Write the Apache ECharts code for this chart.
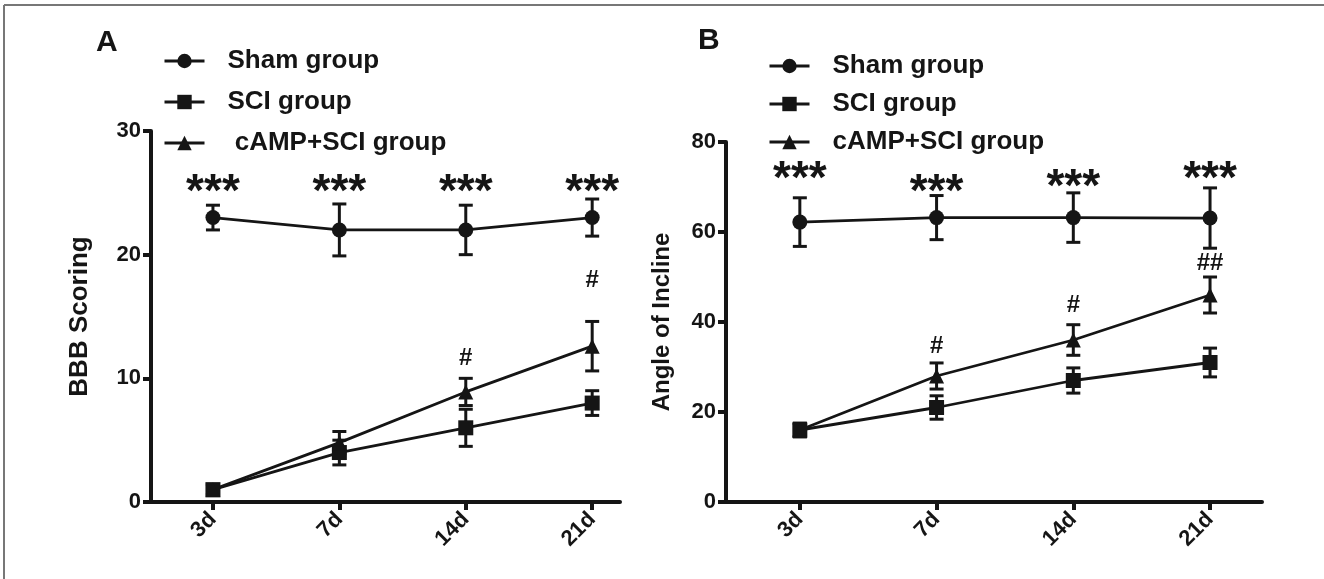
<!DOCTYPE html>
<html>
<head>
<meta charset="utf-8">
<script src="https://cdn.jsdelivr.net/npm/echarts@6/dist/echarts.min.js"></script>
<style>
  html, body { margin: 0; padding: 0; background: #fff; }
  #main { width: 1324px; height: 579px; }
</style>
</head>
<body>
<div id="main"></div>
<script>
// time points
var days = ['3d', '7d', '14d', '21d'];
var groups = ['Sham group', 'SCI group', 'cAMP+SCI group'];

// panel A - BBB scoring (mean, sem)
var bbbSham = [23, 22, 22, 23];
var bbbShamErr = [1, 2.1, 2, 1.5];
var bbbSci = [1, 4, 6, 8];
var bbbSciErr = [0.4, 1, 1.5, 1];
var bbbCamp = [1, 4.8, 8.9, 12.6];
var bbbCampErr = [0.4, 0.9, 1.1, 2];

// panel B - angle of incline
var angSham = [62.2, 63.2, 63.2, 63.1];
var angShamErr = [5.4, 4.9, 5.5, 6.7];
var angSci = [16, 21, 27, 31];
var angSciErr = [1.5, 2.6, 2.8, 3.2];
var angCamp = [16, 28, 36, 46];
var angCampErr = [1.5, 2.9, 3.4, 4];

// significance marks: [dayIndex, y, text]
var starsA = [[0, 25.0, '***'], [1, 25.0, '***'], [2, 25.0, '***'], [3, 25.0, '***']];
var hashA = [[2, 11.6, '#'], [3, 17.9, '#']];
var starsB = [[0, 71.5, '***'], [1, 68.6, '***'], [2, 69.7, '***'], [3, 71.5, '***']];
var hashB = [[1, 34.5, '#'], [2, 43.8, '#'], [3, 53, '##']];

var ink = '#151515';
var font = 'Liberation Sans';

var myChart = echarts.init(document.getElementById('main'));

function pts(arr) {
    return arr.map(function (v, i) { return [i, v]; });
}
function errPts(mean, err) {
    return mean.map(function (v, i) { return [i, v, err[i]]; });
}

function errorBars(idx, mean, err) {
    return {
        type: 'custom',
        xAxisIndex: idx, yAxisIndex: idx,
        silent: true,
        z: 3,
        data: errPts(mean, err),
        renderItem: function (params, api) {
            var x = api.value(0), y = api.value(1), e = api.value(2);
            var top = api.coord([x, y + e]);
            var bot = api.coord([x, y - e]);
            var w = 7;
            var st = {stroke: ink, lineWidth: 3};
            return {
                type: 'group',
                children: [
                    {type: 'line', shape: {x1: top[0], y1: top[1], x2: bot[0], y2: bot[1]}, style: st},
                    {type: 'line', shape: {x1: top[0] - w, y1: top[1], x2: top[0] + w, y2: top[1]}, style: st},
                    {type: 'line', shape: {x1: bot[0] - w, y1: bot[1], x2: bot[0] + w, y2: bot[1]}, style: st}
                ]
            };
        }
    };
}

function marks(idx, list, size) {
    return {
        type: 'custom',
        xAxisIndex: idx, yAxisIndex: idx,
        silent: true,
        z: 4,
        data: list.map(function (d) { return [d[0], d[1]]; }),
        renderItem: function (params, api) {
            var p = api.coord([api.value(0), api.value(1)]);
            return {
                type: 'text',
                x: p[0], y: p[1],
                style: {
                    text: list[params.dataIndex][2],
                    fontSize: size, fontWeight: 'bold', fontFamily: font,
                    align: 'center', verticalAlign: 'middle', fill: ink
                }
            };
        }
    };
}

function lineSeries(idx, name, data, symbol) {
    return {
        name: name,
        type: 'line',
        xAxisIndex: idx, yAxisIndex: idx,
        data: pts(data),
        symbol: symbol,
        symbolSize: 15,
        lineStyle: {color: ink, width: 2.8},
        itemStyle: {color: ink},
        z: 5
    };
}

function xAxisCfg(idx, min, max) {
    return {
        type: 'value',
        gridIndex: idx,
        min: min, max: max,
        splitLine: {show: false},
        axisLine: {show: true, onZero: false, lineStyle: {color: ink, width: 4}},
        axisTick: {show: true, customValues: [0, 1, 2, 3], length: 8, lineStyle: {color: ink, width: 4}},
        axisLabel: {
            customValues: [0, 1, 2, 3],
            formatter: function (v) { return days[v]; },
            rotate: 45, margin: 14,
            color: ink, fontSize: 22, fontWeight: 'bold', fontFamily: font
        }
    };
}

function yAxisCfg(idx, max, interval, name, gap, nameSize) {
    return {
        type: 'value',
        gridIndex: idx,
        min: 0, max: max, interval: interval,
        splitLine: {show: false},
        axisLine: {show: true, onZero: false, lineStyle: {color: ink, width: 4}},
        axisTick: {show: true, length: 8, lineStyle: {color: ink, width: 4}},
        axisLabel: {color: ink, fontSize: 22, fontWeight: 'bold', fontFamily: font, margin: 10},
        name: name,
        nameLocation: 'middle',
        nameGap: gap,
        nameTextStyle: {color: ink, fontSize: nameSize, fontWeight: 'bold', fontFamily: font}
    };
}

function legendCfg(left, top, gap, fmt) {
    return {
        orient: 'vertical',
        left: left, top: top,
        padding: 0,
        itemWidth: 40, itemHeight: 18, itemGap: gap,
        selectedMode: false,
        data: groups,
        formatter: fmt,
        lineStyle: {width: 3, color: ink},
        textStyle: {color: ink, fontSize: 26, fontWeight: 'bold', fontFamily: font, padding: [0, 0, 0, 18]}
    };
}

myChart.setOption({
    backgroundColor: '#fff',
    animation: false,
    grid: [
        {left: 151, top: 131, width: 469, height: 371},
        {left: 726, top: 142, width: 536, height: 360}
    ],
    legend: [
        legendCfg(163, 48, 15, function (n) { return n.indexOf('cAMP') === 0 ? ' ' + n : n; }),
        legendCfg(768, 53, 12, function (n) { return n; })
    ],
    xAxis: [xAxisCfg(0, -0.49, 3.22), xAxisCfg(1, -0.54, 3.38)],
    yAxis: [yAxisCfg(0, 30, 10, 'BBB Scoring', 58, 26), yAxisCfg(1, 80, 20, 'Angle of Incline', 52, 24)],
    graphic: [
        {type: 'line', shape: {x1: 4, y1: 5, x2: 1324, y2: 5}, style: {stroke: '#777', lineWidth: 2}},
        {type: 'line', shape: {x1: 4, y1: 5, x2: 4, y2: 579}, style: {stroke: '#777', lineWidth: 2}},
        {type: 'text', left: 96, top: 28, style: {text: 'A', fontSize: 30, fontWeight: 'bold', fontFamily: font, fill: ink}},
        {type: 'text', left: 698, top: 26, style: {text: 'B', fontSize: 30, fontWeight: 'bold', fontFamily: font, fill: ink}}
    ],
    series: [
        errorBars(0, bbbSham, bbbShamErr),
        errorBars(0, bbbSci, bbbSciErr),
        errorBars(0, bbbCamp, bbbCampErr),
        lineSeries(0, groups[0], bbbSham, 'circle'),
        lineSeries(0, groups[1], bbbSci, 'rect'),
        lineSeries(0, groups[2], bbbCamp, 'triangle'),
        marks(0, starsA, 46),
        marks(0, hashA, 24),
        errorBars(1, angSham, angShamErr),
        errorBars(1, angSci, angSciErr),
        errorBars(1, angCamp, angCampErr),
        lineSeries(1, groups[0], angSham, 'circle'),
        lineSeries(1, groups[1], angSci, 'rect'),
        lineSeries(1, groups[2], angCamp, 'triangle'),
        marks(1, starsB, 46),
        marks(1, hashB, 24)
    ]
});
</script>
</body>
</html>
